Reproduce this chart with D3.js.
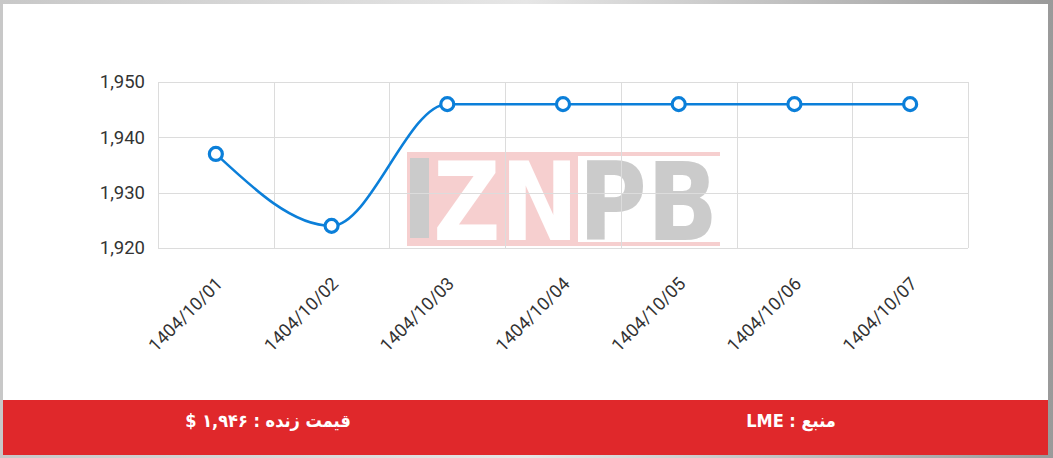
<!DOCTYPE html>
<html><head><meta charset="utf-8">
<script src="https://cdn.jsdelivr.net/npm/d3@7"></script>
<style>
html,body{margin:0;padding:0;background:#bdbdbd;}
svg{display:block;}
</style></head><body>
<svg id="c" width="1053" height="458"></svg>
<script>
const categories = ["1404/10/01","1404/10/02","1404/10/03","1404/10/04","1404/10/05","1404/10/06","1404/10/07"];
const prices = [1937, 1924, 1946, 1946, 1946, 1946, 1946];
const yTicks = [1920, 1930, 1940, 1950];
const footerLeft = "قیمت زنده : ۱,۹۴۶ $";
const footerRight = "منبع : LME";

const svg = d3.select("#c");
const W = 1053, H = 458;

// frame
const defs = svg.append("defs");
const g1 = defs.append("linearGradient").attr("id","fr").attr("x1",0).attr("x2",1).attr("y1",0).attr("y2",0);
g1.append("stop").attr("offset","0%").attr("stop-color","#c8c8c8");
g1.append("stop").attr("offset","50%").attr("stop-color","#e6e6e6");
g1.append("stop").attr("offset","100%").attr("stop-color","#9a9a9a");
svg.append("rect").attr("width",W).attr("height",H).attr("fill","url(#fr)");
svg.append("rect").attr("x",3).attr("y",4).attr("width",1045).attr("height",396).attr("fill","#fff");

const plot = {l:158, r:968, t:82, b:248};
const x = d3.scaleBand().domain(categories).range([plot.l, plot.r]).padding(0);
const y = d3.scaleLinear().domain([1920,1950]).range([plot.b, plot.t]);

// watermark
const wg = defs.append("linearGradient").attr("id","wmf").attr("gradientUnits","userSpaceOnUse")
  .attr("x1",400).attr("x2",730).attr("y1",0).attr("y2",0);
const split = (579-400)/330;
wg.append("stop").attr("offset",split).attr("stop-color","#fff");
wg.append("stop").attr("offset",split).attr("stop-color","#cbcbcb");
const wm = svg.append("g");
wm.append("rect").attr("x",407).attr("y",153).attr("width",171).attr("height",92).attr("fill","#f6cfcf");
wm.append("rect").attr("x",407).attr("y",152).attr("width",313).attr("height",4).attr("fill","#f6cfcf");
wm.append("rect").attr("x",407).attr("y",242).attr("width",313).attr("height",4).attr("fill","#f6cfcf");
wm.append("rect").attr("x",410).attr("y",158).attr("width",19).attr("height",80).attr("fill","#cbcbcb");
wm.append("text").attr("x",433).attr("y",240).attr("textLength",285).attr("lengthAdjust","spacingAndGlyphs")
  .attr("font-family","DejaVu Sans, Liberation Sans").attr("font-weight","bold").attr("font-size",108)
  .attr("fill","url(#wmf)").text("ZNPB");

// grid
const grid = svg.append("g").attr("stroke","#dcdcdc").attr("stroke-width",1);
yTicks.forEach(t => grid.append("line").attr("x1",plot.l).attr("x2",plot.r).attr("y1",Math.round(y(t))+0.5).attr("y2",Math.round(y(t))+0.5));
const xb = categories.map(c => x(c)).concat([plot.r]);
xb.forEach(v => grid.append("line").attr("x1",Math.round(v)+0.5).attr("x2",Math.round(v)+0.5).attr("y1",plot.t).attr("y2",plot.b));

// y axis labels
const yAxis = d3.axisLeft(y).tickValues(yTicks).tickSize(0).tickPadding(13).tickFormat(d3.format(","));
const ya = svg.append("g").attr("transform",`translate(${plot.l},0)`).call(yAxis);
ya.select(".domain").remove();
ya.selectAll("text").attr("font-family","Roboto, sans-serif").attr("font-size",18.5).attr("fill","#333");

// x axis labels
const xa = svg.append("g");
categories.forEach(c => {
  const cx = x(c) + x.bandwidth()/2;
  xa.append("text").attr("transform",`translate(${cx-1},${276}) rotate(-45)`)
    .attr("text-anchor","end").attr("dy","0.7em")
    .attr("font-family","Roboto, sans-serif").attr("font-size",18).attr("fill","#333").text(c);
});

// line
const pts = categories.map((c,i)=>[x(c)+x.bandwidth()/2, y(prices[i])]);
const line = d3.line().curve(d3.curveMonotoneX);
svg.append("path").attr("d", line(pts)).attr("fill","none").attr("stroke","#0b7fd9").attr("stroke-width",2.5);
svg.selectAll("circle.p").data(pts).enter().append("circle").attr("class","p")
  .attr("cx",d=>d[0]).attr("cy",d=>d[1]).attr("r",6.5)
  .attr("fill","#fff").attr("stroke","#0b7fd9").attr("stroke-width",3.2);

// footer
svg.append("rect").attr("x",3).attr("y",400).attr("width",1045).attr("height",55).attr("fill","#e0282b");
const ff = "DejaVu Sans Condensed, DejaVu Sans, sans-serif";
svg.append("text").attr("x",268).attr("y",422).attr("text-anchor","middle").attr("dominant-baseline","middle")
  .attr("direction","rtl").attr("font-family",ff).attr("font-weight","bold").attr("font-size",18).attr("fill","#fff").text(footerLeft);
svg.append("text").attr("x",791).attr("y",422).attr("text-anchor","middle").attr("dominant-baseline","middle")
  .attr("direction","rtl").attr("font-family",ff).attr("font-weight","bold").attr("font-size",18).attr("fill","#fff").text(footerRight);
</script></body></html>
